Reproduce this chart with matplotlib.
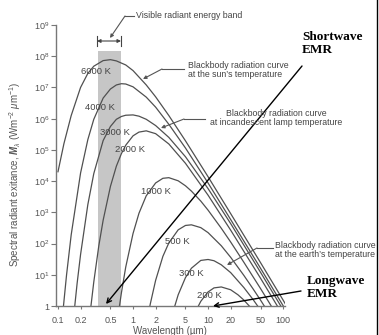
import numpy as np
import matplotlib
matplotlib.use("Agg")
import matplotlib.pyplot as plt
from matplotlib.lines import Line2D

plt.rcParams['font.family'] = ['Liberation Sans', 'DejaVu Sans']
plt.rcParams['mathtext.fontset'] = 'custom'
plt.rcParams['mathtext.rm'] = 'Liberation Sans'
plt.rcParams['mathtext.it'] = 'Liberation Sans:italic'
plt.rcParams['mathtext.bf'] = 'Liberation Sans:bold'
plt.rcParams['mathtext.bfit'] = 'Liberation Sans:italic:bold'

# wavelength (um) and log10 spectral exitance
wl_6000 = [0.1, 0.12, 0.15, 0.2, 0.25, 0.3, 0.4, 0.5, 0.6, 0.8, 1, 1.5, 2, 3, 5, 10, 20, 50, 100, 110]
lg_6000 = [4.30, 5.20, 6.10, 7.00, 7.45, 7.68, 7.86, 7.89, 7.85, 7.72, 7.54, 7.08, 6.70, 6.10, 5.29, 4.14, 2.96, 1.39, 0.19, 0.02]

wl_4000 = [0.118, 0.13, 0.15, 0.2, 0.25, 0.3, 0.4, 0.5, 0.6, 0.7, 0.8, 1, 1.5, 2, 3, 5, 10, 20, 50, 100]
lg_4000 = [-0.03, 0.99, 2.28, 4.26, 5.33, 5.98, 6.66, 6.95, 7.08, 7.12, 7.11, 7.02, 6.69, 6.37, 5.82, 5.06, 3.94, 2.77, 1.21, 0.01]

wl_3000 = [0.165, 0.18, 0.2, 0.25, 0.3, 0.4, 0.5, 0.6, 0.7, 0.8, 1, 1.2, 1.5, 2, 3, 5, 10, 20, 50, 90, 100]
lg_3000 = [-0.14, 0.73, 1.65, 3.25, 4.24, 5.30, 5.75, 5.98, 6.07, 6.11, 6.12, 6.08, 5.98, 5.78, 5.40, 4.78, 3.76, 2.64, 1.08, 0.06, -0.12]

wl_2000 = [0.27, 0.3, 0.35, 0.4, 0.5, 0.6, 0.7, 0.8, 1, 1.2, 1.5, 2, 3, 5, 10, 20, 50, 80, 90]
lg_2000 = [-0.16, 0.77, 1.93, 2.75, 3.83, 4.48, 4.88, 5.15, 5.45, 5.57, 5.61, 5.52, 5.19, 4.57, 3.55, 2.43, 0.89, 0.08, -0.12]

wl_1000 = [0.65, 0.7, 0.8, 1, 1.2, 1.5, 2, 2.5, 3, 4, 5, 6, 8, 10, 15, 20, 30, 50, 75]
lg_1000 = [-0.11, 0.42, 1.25, 2.32, 2.97, 3.53, 3.94, 4.09, 4.11, 4.01, 3.85, 3.68, 3.36, 3.07, 2.49, 2.05, 1.40, 0.56, -0.13]

wl_500 = [1.6, 1.7, 2, 2.5, 3, 4, 5, 6, 8, 10, 15, 20, 30, 40, 50, 60]
lg_500 = [-0.26, 0.07, 0.82, 1.59, 2.02, 2.44, 2.58, 2.60, 2.51, 2.35, 1.93, 1.56, 0.98, 0.54, 0.19, -0.11]

wl_300 = [3.5, 4, 5, 6, 8, 10, 12, 15, 20, 30, 40, 50]
lg_300 = [-0.10, 0.36, 0.91, 1.21, 1.46, 1.49, 1.45, 1.32, 1.07, 0.59, 0.20, -0.13]

wl_200 = [7, 8, 10, 12, 15, 20, 25, 30, 40]
lg_200 = [-0.12, 0.15, 0.45, 0.58, 0.61, 0.52, 0.36, 0.19, -0.14]

curves = [(wl_6000, lg_6000), (wl_4000, lg_4000), (wl_3000, lg_3000), (wl_2000, lg_2000),
          (wl_1000, lg_1000), (wl_500, lg_500), (wl_300, lg_300), (wl_200, lg_200)]
curve_labels = ['6000 K', '4000 K', '3000 K', '2000 K', '1000 K', '500 K', '300 K', '200 K']

visible_band = [0.34, 0.69]
visible_top = 1.5e8

x_ticks = [0.1, 0.2, 0.5, 1, 2, 5, 10, 20, 50, 100]
x_tick_labels = ['0.1', '0.2', '0.5', '1', '2', '5', '10', '20', '50', '100']
y_ticks = [10.0 ** k for k in range(10)]
y_tick_labels = ['1'] + ['$10^{%d}$' % k for k in range(1, 10)]

W, H = 379, 335


def fp(x, y):
    # picture pixel -> figure fraction
    return (x / W, 1 - y / H)


fig = plt.figure(figsize=(W / 100, H / 100), dpi=100)
ax = fig.add_axes([56 / W, 29 / H, 229 / W, 281 / H])
ax.set_xscale('log')
ax.set_yscale('log')
ax.set_xlim(0.0941, 106)
ax.set_ylim(1, 1e9)

ax.fill_between(visible_band, 1, visible_top, color='#c6c6c6', lw=0, zorder=0)

for wl, lg in curves:
    ax.plot(wl, 10.0 ** np.array(lg), color='#505050', lw=0.9, zorder=2)

for s in ['top', 'right']:
    ax.spines[s].set_visible(False)
for s in ['left', 'bottom']:
    ax.spines[s].set_color('#777777')
    ax.spines[s].set_linewidth(1.0)

ax.set_xticks(x_ticks)
ax.set_xticklabels(x_tick_labels)
ax.set_yticks(y_ticks)
ax.set_yticklabels(y_tick_labels)
ax.xaxis.set_minor_locator(matplotlib.ticker.NullLocator())
ax.yaxis.set_minor_locator(matplotlib.ticker.NullLocator())
ax.tick_params(axis='both', colors='#777777', labelcolor='#555555', labelsize=6.5, width=0.8)
ax.tick_params(axis='x', length=2.5, pad=4.5)
ax.tick_params(axis='y', length=3.5, pad=1.5)

txt = dict(color='#444444', fontsize=6.8, ha='center', va='center')
label_pos = [(96, 71), (100, 107), (115, 132), (130, 150), (156, 192), (177, 242), (191, 274), (209, 295)]
for lab, (px, py) in zip(curve_labels, label_pos):
    fig.text(*fp(px, py), lab, **txt)

fig.text(*fp(15, 174), 'Spectral radiant exitance, $\\mathbfit{M}_{\\lambda}$ (Wm$^{-2}$ $\\mu$m$^{-1}$)',
         rotation=90, ha='center', va='center', fontsize=7, color='#555555')
fig.text(*fp(170, 331), 'Wavelength (\u00b5m)', ha='center', va='center', fontsize=7, color='#555555')

# leader lines for the annotations
lead = dict(color='#555555', lw=0.8)
arrow = dict(arrowstyle='-|>', color='#555555', lw=0.8, mutation_scale=5, shrinkA=0, shrinkB=0)


def leader(x0, x1, y, tip):
    fig.add_artist(Line2D([x0 / W, x1 / W], [1 - y / H, 1 - y / H], **lead))
    ax.annotate('', xy=fp(*tip), xytext=fp(x1, y), xycoords='figure fraction',
                textcoords='figure fraction', arrowprops=arrow, annotation_clip=False)


leader(134, 125, 16, (110, 38))
leader(184, 162, 69, (143, 79))
leader(205, 184, 119, (161, 128))
leader(273, 257, 248, (227, 265))

note = dict(color='#444444', fontsize=6.3, linespacing=1.1)
fig.text(*fp(136, 16), 'Visible radiant energy band', va='center', **note)
fig.text(*fp(188, 70), 'Blackbody radiation curve\nat the sun\u2019s temperature', va='center', **note)
fig.text(*fp(276, 118), 'Blackbody radiation curve\nat incandescent lamp temperature', va='center', ha='center', **note)
fig.text(*fp(275, 250), 'Blackbody radiation curve\nat the earth\u2019s temperature', va='center', **note)

# visible band bracket
ax.annotate('', xy=fp(97, 41), xytext=fp(121, 41), xycoords='figure fraction', textcoords='figure fraction',
            arrowprops=dict(arrowstyle='<|-|>', color='#444444', lw=0.8, mutation_scale=5, shrinkA=0, shrinkB=0),
            annotation_clip=False)
for bx in (97, 121):
    fig.add_artist(Line2D([bx / W, bx / W], [1 - 36 / H, 1 - 46 / H], color='#444444', lw=0.8))

# shortwave / longwave callouts
bold = dict(family=['Liberation Serif', 'DejaVu Serif'], fontweight='bold', fontsize=9.5, color='black',
            linespacing=1.15, va='top')
fig.text(*fp(302, 31), 'Shortwave\nEMR', **bold)
fig.text(*fp(307, 275), 'Longwave\nEMR', **bold)
black = dict(arrowstyle='->', color='black', lw=1.0, mutation_scale=8, shrinkA=0, shrinkB=0)
ax.annotate('', xy=fp(106, 304), xytext=fp(302, 66), xycoords='figure fraction',
            textcoords='figure fraction', arrowprops=black, annotation_clip=False)
ax.annotate('', xy=fp(213, 306), xytext=fp(301, 291), xycoords='figure fraction',
            textcoords='figure fraction', arrowprops=black, annotation_clip=False)

fig.add_artist(Line2D([376.5 / W, 376.5 / W], [0, 1], color='black', lw=1.0))

fig.savefig('out.png', dpi=100)
